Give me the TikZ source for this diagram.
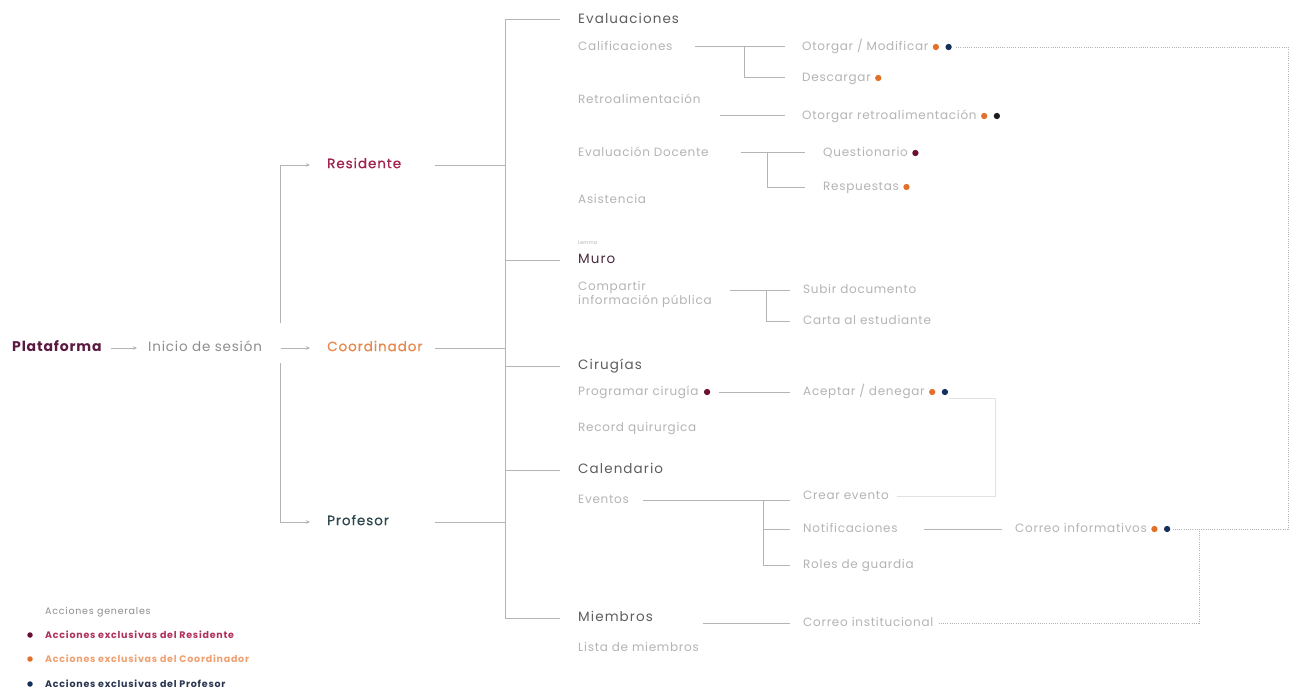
\documentclass[tikz,border=0pt]{standalone}
\usepackage{fontspec}
\setmainfont{Poppins}
\newfontfamily\wideA{Poppins}[LetterSpace=8]
\newfontfamily\wideB{Poppins}[LetterSpace=6]
\newfontfamily\roleF{Poppins}[LetterSpace=7, FakeBold=0.6]
\usetikzlibrary{arrows.meta,positioning}
\definecolor{cplat}{HTML}{5C1A42}
\definecolor{cres}{HTML}{A3234F}
\definecolor{ccoord}{HTML}{E8884E}
\definecolor{cprof}{HTML}{2F4A50}
\definecolor{cmuro}{HTML}{4A2A3C}
\definecolor{chead}{HTML}{5E5E5E}
\definecolor{csub}{HTML}{B4B4B4}
\definecolor{cinicio}{HTML}{8E8E8E}
\definecolor{cline}{HTML}{B4B4B4}
\definecolor{cfaint}{HTML}{E2E2E2}
\definecolor{dmaroon}{HTML}{6B0F35}
\definecolor{dorange}{HTML}{E0702A}
\definecolor{dnavy}{HTML}{15305A}
\definecolor{dblack}{HTML}{1C1C1C}
\definecolor{lgres}{HTML}{B0305A}
\definecolor{lgcoord}{HTML}{F0A070}
\definecolor{lgprof}{HTML}{2A3550}
\tikzset{
  lbl/.style={anchor=west, inner sep=0pt, text height=1.45ex, text depth=.3ex},
  plat/.style={lbl, font=\fontsize{14}{16}\wideB\bfseries, text=cplat},
  inicio/.style={lbl, font=\fontsize{13.5}{15}\wideB, text=cinicio},
  role/.style={lbl, font=\fontsize{13.5}{15}\roleF},
  head/.style={lbl, font=\fontsize{13.5}{15}\wideA, text=chead},
  sub/.style={lbl, font=\fontsize{12}{14.5}\wideB, text=csub},
  legendtext/.style={lbl, font=\fontsize{9.5}{11}\wideA\bfseries},
  tinytext/.style={lbl, font=\fontsize{5}{6}\selectfont, text=csub},
  ln/.style={draw=cline, line width=1pt},
  arr/.style={draw=cline, line width=0.8pt, -{Stealth[length=4pt,width=3.5pt]}},
  dotline/.style={draw=cline, line width=0.8pt, dash pattern=on 1pt off 1.2pt},
  faint/.style={draw=cfaint, line width=0.8pt},
  dot/.style={circle, fill=#1, inner sep=0pt, minimum size=6.3pt},
}
\begin{document}
\begin{tikzpicture}[x=1pt,y=-1pt]
\useasboundingbox[fill=white] (0,0) rectangle (1293,698);

% column guides
\coordinate (split) at (280,348);
\coordinate (rl) at (435,0);
\coordinate (tr) at (505,0);
\coordinate (rc) at (1288,0);
\coordinate (jc) at (1199,0);
\coordinate (bx) at (995,0);

% entry chain
\node[plat] (plat) at (12,348) {Plataforma};
\node[inicio] (inicio) at (148,348) {Inicio de sesión};
\node[role, text=cres] (res) at (327,165) {Residente};
\node[role, text=ccoord] (coord) at (327,348) {Coordinador};
\node[role, text=cprof] (prof) at (327,522) {Profesor};

\draw[arr] ([xshift=9pt]plat.east) -- ([xshift=-11pt]inicio.west);
\draw[arr] ([xshift=19pt]inicio.east) -- ([xshift=-17pt]coord.west);
\draw[arr] ([yshift=25pt]split) |- ([xshift=-17pt]res.west);
\draw[arr] ([yshift=-15pt]split) |- ([xshift=-17pt]prof.west);

% modules
\node[head] (eval) at (578,20) {Evaluaciones};
\node[tinytext] (lemma) at (578,241) {Lemma};
\node[head, text=cmuro] (muro) at (578,260) {Muro};
\node[head] (cir) at (578,366) {Cirugías};
\node[head] (cal) at (578,470) {Calendario};
\node[head] (miem) at (578,618) {Miembros};

% trunk
\draw[ln] ([xshift=-18pt]eval.west) -- (tr |- eval) -- (tr |- miem) -- ([xshift=-18pt]miem.west);
\foreach \m in {muro,cir,cal}
  \draw[ln] (tr |- \m) -- ([xshift=-18pt]\m.west);
\foreach \r in {res,coord,prof}
  \draw[ln] (rl |- \r) -- (tr |- \r);

% Evaluaciones
\node[sub] (calif) at (578,47) {Calificaciones};
\node[sub] (otorg) at (802,47) {Otorgar / Modificar};
\node[dot=dorange, right=4pt of otorg] (otorgA) {};
\node[dot=dnavy, right=6pt of otorgA] (otorgB) {};
\node[sub] (desc) at (802,78) {Descargar};
\node[dot=dorange, right=4pt of desc] (descA) {};
\coordinate (j1) at (744,0);
\draw[ln] ([xshift=22pt]calif.east) -- ([xshift=-17pt]otorg.west);
\draw[ln] (j1 |- calif) |- ([xshift=-17pt]desc.west);

\node[sub] (retro) at (578,100) {Retroalimentación};
\node[sub] (otret) at (802,116) {Otorgar retroalimentación};
\node[dot=dorange, right=4pt of otret] (otretA) {};
\node[dot=dblack, right=6pt of otretA] (otretB) {};
\coordinate (j2) at (720,0);
\draw[ln] (j2 |- otret) -- ([xshift=-17pt]otret.west);

\node[sub] (evdoc) at (578,153) {Evaluación Docente};
\node[sub] (quest) at (823,153) {Questionario};
\node[dot=dmaroon, right=4pt of quest] (questA) {};
\node[sub] (resp) at (823,187) {Respuestas};
\node[dot=dorange, right=4pt of resp] (respA) {};
\coordinate (j3a) at (741,0);
\coordinate (j3) at (767,0);
\draw[ln] (j3a |- evdoc) -- ([xshift=-18pt]quest.west);
\draw[ln] (j3 |- evdoc) |- ([xshift=-18pt]resp.west);

\node[sub] (asist) at (578,200) {Asistencia};

% Muro
\node[sub, align=left, text height=, text depth=, anchor=north west] (comp) at (578,281)
  {Compartir\\información pública};
\node[sub] (subir) at (803,290) {Subir documento};
\node[sub] (carta) at (803,321) {Carta al estudiante};
\coordinate (j4a) at (730,0);
\coordinate (j4) at (766,0);
\draw[ln] (j4a |- subir) -- ([xshift=-13pt]subir.west);
\draw[ln] (j4 |- subir) |- ([xshift=-13pt]carta.west);

% Cirugías
\node[sub] (prog) at (578,392) {Programar cirugía};
\node[dot=dmaroon, right=5pt of prog] (progA) {};
\node[sub] (acep) at (803,392) {Aceptar / denegar};
\node[dot=dorange, right=4pt of acep] (acepA) {};
\node[dot=dnavy, right=6pt of acepA] (acepB) {};
\draw[ln] ([xshift=9pt]progA.east) -- ([xshift=-13pt]acep.west);
\node[sub] (record) at (578,428) {Record quirurgica};

% Calendario
\node[sub] (eventos) at (578,500) {Eventos};
\node[sub] (crear) at (803,496) {Crear evento};
\node[sub] (notif) at (803,529) {Notificaciones};
\node[sub] (roles) at (803,565) {Roles de guardia};
\coordinate (j5) at (763,0);
\draw[ln] ([xshift=14pt]eventos.east) -- ([xshift=-13pt]crear.west |- eventos);
\draw[ln] (j5 |- eventos) |- ([xshift=-13pt]roles.west);
\draw[ln] (j5 |- notif) -- ([xshift=-13pt]notif.west);

\node[sub] (cinfo) at (1015,529) {Correo informativos};
\node[dot=dorange, right=4pt of cinfo] (cinfoA) {};
\node[dot=dnavy, right=6pt of cinfoA] (cinfoB) {};
\draw[ln] ([xshift=26pt]notif.east) -- ([xshift=-13pt]cinfo.west);

% faint loop from Aceptar / denegar
\draw[faint] ([xshift=8pt]crear.east) -- (bx |- crear) -- ([yshift=-6pt]bx |- acepB) -- ([xshift=4pt,yshift=-6pt]acepB.center);

% Miembros
\node[sub] (lista) at (578,648) {Lista de miembros};
\node[sub] (cinst) at (803,623) {Correo institucional};
\coordinate (j6) at (703,0);
\draw[ln] (j6 |- cinst) -- ([xshift=-13pt]cinst.west);

% dotted mail links
\draw[dotline] ([xshift=4pt]otorgB.east) -- (rc |- otorg) -- (rc |- cinfo) -- ([xshift=3pt]cinfoB.east);
\draw[dotline] ([xshift=5pt]cinst.east) -| (jc |- cinfo);

% legend
\node[lbl, font=\fontsize{9.5}{11}\wideA, text=cinicio] (lg0) at (45,611) {Acciones generales};
\node[dot=dmaroon, minimum size=5.5pt] (lgd1) at (30,635) {};
\node[legendtext, text=lgres] (lg1) at (45,635) {Acciones exclusivas del Residente};
\node[dot=dorange, minimum size=5.5pt] (lgd2) at (30,659) {};
\node[legendtext, text=lgcoord] (lg2) at (45,659) {Acciones exclusivas del Coordinador};
\node[dot=dnavy, minimum size=5.5pt] (lgd3) at (30,684) {};
\node[legendtext, text=lgprof] (lg3) at (45,684) {Acciones exclusivas del Profesor};
\end{tikzpicture}
\end{document}
